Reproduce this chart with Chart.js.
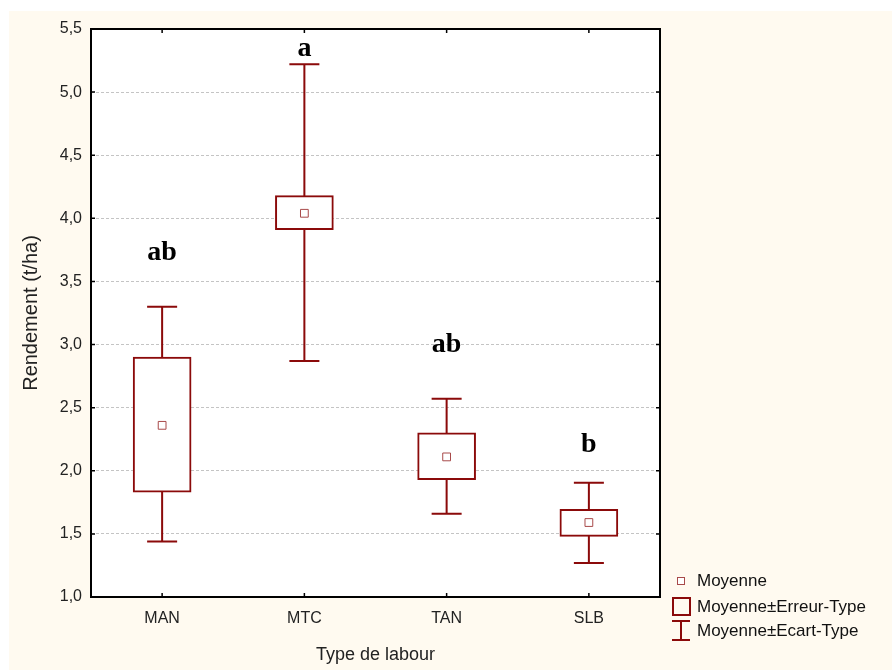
<!DOCTYPE html>
<html>
<head>
<meta charset="utf-8">
<script src="https://cdn.jsdelivr.net/npm/chart.js@4.4.1/dist/chart.umd.min.js"></script>
<style>
  body{margin:0;background:#fff}
  #wrap{width:892px;height:670px;position:relative}
</style>
</head>
<body>
<div id="wrap"><canvas id="data_chart"></canvas></div>
<script>
// values
const categories=['MAN','MTC','TAN','SLB']
const means=[2.36,4.04,2.11,1.59]
const seLow=[1.83,3.91,1.93,1.48]
const seHigh=[2.90,4.18,2.30,1.695]
const sdLow=[1.44,2.87,1.66,1.27]
const sdHigh=[3.30,5.22,2.57,1.905]
const groupLetters=['ab','a','ab','b']
const letterAt=[3.67,5.29,2.94,2.15]
const yTicks=[1.0,1.5,2.0,2.5,3.0,3.5,4.0,4.5,5.0,5.5]
const legendLabels=['Moyenne','Moyenne\u00b1Erreur-Type','Moyenne\u00b1Ecart-Type']

const red='#8b0a0a'
const meanRed='#a84a4a'
const cream='#fffaf0'
const sans="'Liberation Sans', Arial, sans-serif"

const backdrop={
  id:'backdrop',
  beforeDraw(chart){
    const ctx=chart.ctx, a=chart.chartArea
    ctx.save()
    ctx.fillStyle='#fff'
    ctx.fillRect(0,0,chart.width,chart.height)
    ctx.fillStyle=cream
    ctx.fillRect(9,11,chart.width-9,chart.height-11)
    ctx.fillStyle='#fff'
    ctx.fillRect(a.left,a.top,a.right-a.left,a.bottom-a.top)
    ctx.restore()
  }
}

const whiskers={
  id:'whiskers',
  beforeDatasetsDraw(chart){
    const ctx=chart.ctx, x=chart.scales.x, y=chart.scales.y
    ctx.save()
    ctx.strokeStyle=red
    ctx.lineWidth=2
    for(let i=0;i<categories.length;i++){
      const px=x.getPixelForValue(i)
      const lo=y.getPixelForValue(sdLow[i]), hi=y.getPixelForValue(sdHigh[i])
      ctx.beginPath()
      ctx.moveTo(px,lo);ctx.lineTo(px,hi)
      ctx.moveTo(px-15,lo);ctx.lineTo(px+15,lo)
      ctx.moveTo(px-15,hi);ctx.lineTo(px+15,hi)
      ctx.stroke()
    }
    ctx.restore()
  }
}

const extras={
  id:'extras',
  afterDraw(chart){
    const ctx=chart.ctx, a=chart.chartArea, x=chart.scales.x, y=chart.scales.y
    ctx.save()
    // letters above groups
    ctx.fillStyle='#000'
    ctx.font="bold 28px 'Liberation Serif', 'Times New Roman', serif"
    ctx.textAlign='center'
    ctx.textBaseline='alphabetic'
    for(let i=0;i<categories.length;i++){
      ctx.fillText(groupLetters[i],x.getPixelForValue(i),y.getPixelForValue(letterAt[i]))
    }
    // frame and inward ticks
    ctx.strokeStyle='#000'
    ctx.lineWidth=2
    ctx.strokeRect(a.left,a.top,a.right-a.left,a.bottom-a.top)
    ctx.lineWidth=1.5
    ctx.beginPath()
    yTicks.forEach(v=>{
      const py=y.getPixelForValue(v)
      ctx.moveTo(a.left,py);ctx.lineTo(a.left+4,py)
      ctx.moveTo(a.right,py);ctx.lineTo(a.right-4,py)
    })
    for(let i=0;i<categories.length;i++){
      const px=x.getPixelForValue(i)
      ctx.moveTo(px,a.top);ctx.lineTo(px,a.top+4)
      ctx.moveTo(px,a.bottom);ctx.lineTo(px,a.bottom-4)
    }
    ctx.stroke()
    // legend
    const lx=681
    ctx.fillStyle='#fff'
    ctx.strokeStyle=meanRed
    ctx.lineWidth=1
    ctx.fillRect(lx-4,577,8,8)
    ctx.strokeRect(lx-3.5,577.5,7,7)
    ctx.strokeStyle=red
    ctx.lineWidth=2
    ctx.strokeRect(lx-8,598,17,17)
    ctx.beginPath()
    ctx.moveTo(lx-9,621);ctx.lineTo(lx+9,621)
    ctx.moveTo(lx,621);ctx.lineTo(lx,640)
    ctx.moveTo(lx-9,640);ctx.lineTo(lx+9,640)
    ctx.stroke()
    ctx.fillStyle='#111'
    ctx.font='17px '+sans
    ctx.textAlign='left'
    ctx.textBaseline='middle'
    ctx.fillText(legendLabels[0],697,581)
    ctx.fillText(legendLabels[1],697,607)
    ctx.fillText(legendLabels[2],697,631)
    ctx.restore()
  }
}

new Chart('data_chart',{
  data:{
    labels:categories,
    datasets:[{
      type:'line',
      data:means,
      showLine:false,
      pointStyle:'rect',
      pointRadius:5.5,
      pointBackgroundColor:'#fff',
      pointBorderColor:meanRed,
      pointBorderWidth:1,
      order:0
    },{
      type:'bar',
      data:categories.map((c,i)=>[seLow[i],seHigh[i]]),
      backgroundColor:'#fff',
      borderColor:red,
      borderWidth:2,
      borderSkipped:false,
      barThickness:58,
      order:1
    }]
  },
  options:{
    responsive:true,
    maintainAspectRatio:false,
    animation:false,
    layout:{padding:{left:0,top:29,right:232,bottom:0}},
    plugins:{legend:{display:false},tooltip:{enabled:false}},
    scales:{
      x:{
        afterFit(s){s.height=73},
        grid:{display:false,drawTicks:false},
        border:{display:false},
        ticks:{color:'#222',font:{family:sans,size:16},padding:12},
        title:{display:true,text:'Type de labour',color:'#222',font:{family:sans,size:18},padding:{top:0,bottom:4}}
      },
      y:{
        min:1,max:5.5,
        afterFit(s){s.width=91},
        afterBuildTicks(s){s.ticks=yTicks.map(v=>({value:v}))},
        grid:{color:'#c4c4c4',lineWidth:1,drawTicks:false},
        border:{display:false,dash:[3,2]},
        ticks:{color:'#222',font:{family:sans,size:16},padding:9,
          callback:v=>v.toFixed(1).replace('.',',')},
        title:{display:true,text:'Rendement (t/ha)',color:'#222',font:{family:sans,size:20},padding:{top:19,bottom:0}}
      }
    }
  },
  plugins:[backdrop,whiskers,extras]
})
</script>
</body>
</html>
